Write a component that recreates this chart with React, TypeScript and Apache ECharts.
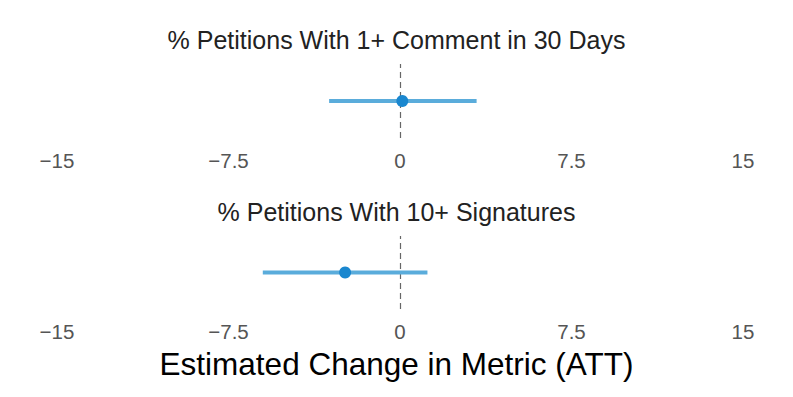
import React, { useEffect, useRef } from "react";
import * as echarts from "echarts";

const panelTitles = ["% Petitions With 1+ Comment in 30 Days", "% Petitions With 10+ Signatures"];
const estimates = [0.1, -2.4];
const lowerCI = [-3.1, -6.0];
const upperCI = [3.35, 1.2];
const xTicks = [-15, 15, 7.5];
const axisTitle = "Estimated Change in Metric (ATT)";

const grids = [
  { top: 64, height: 74, titleTop: 22 },
  { top: 236, height: 73, titleTop: 194 },
];

export default function App() {
  const ref = useRef<HTMLDivElement>(null);
  useEffect(() => {
    document.body.style.margin = "0";
    const chart = echarts.init(ref.current!, null, { renderer: "svg" });
    const font = "'Liberation Sans', Arial, Helvetica, sans-serif";
    const fmt = (v: number) => String(v).replace("-", "\u2212");
    const option: any = {
      animation: false,
      backgroundColor: "#ffffff",
      title: [
        ...panelTitles.map((t, i) => ({
          text: t,
          left: "center",
          top: grids[i].titleTop,
          textStyle: { fontSize: 25, fontWeight: "normal", color: "#222", fontFamily: font },
        })),
        {
          text: axisTitle,
          left: "center",
          top: 343,
          textStyle: { fontSize: 31.5, fontWeight: "normal", color: "#000", fontFamily: font },
        },
      ],
      grid: grids.map((g) => ({ left: 57, right: 50, top: g.top, height: g.height })),
      xAxis: grids.map((_, i) => ({
        type: "value",
        gridIndex: i,
        min: xTicks[0],
        max: xTicks[1],
        interval: xTicks[2],
        axisLine: { show: false },
        axisTick: { show: false },
        splitLine: { show: false },
        axisLabel: { fontSize: 20.5, color: "#555", fontFamily: font, margin: 12, formatter: fmt },
      })),
      yAxis: grids.map((_, i) => ({
        type: "value",
        gridIndex: i,
        min: -1,
        max: 1,
        show: false,
      })),
      series: [
        ...panelTitles.map((_, i) => ({
          type: "line",
          xAxisIndex: i,
          yAxisIndex: i,
          data: [
            [lowerCI[i], 0],
            [upperCI[i], 0],
          ],
          symbol: "none",
          lineStyle: { color: "#5aacdb", width: 4 },
          z: 2,
          markLine: {
            silent: true,
            symbol: "none",
            label: { show: false },
            lineStyle: { color: "#666", type: [6, 4], width: 1.2 },
            data: [{ xAxis: 0 }],
            z: 1,
          },
        })),
        ...panelTitles.map((_, i) => ({
          type: "scatter",
          xAxisIndex: i,
          yAxisIndex: i,
          data: [[estimates[i], 0]],
          symbol: "circle",
          symbolSize: 12,
          itemStyle: { color: "#1a87cf", opacity: 1 },
          z: 3,
        })),
      ],
    };
    chart.setOption(option);
    return () => chart.dispose();
  }, []);
  return <div ref={ref} style={{ width: 793, height: 397 }} />;
}
